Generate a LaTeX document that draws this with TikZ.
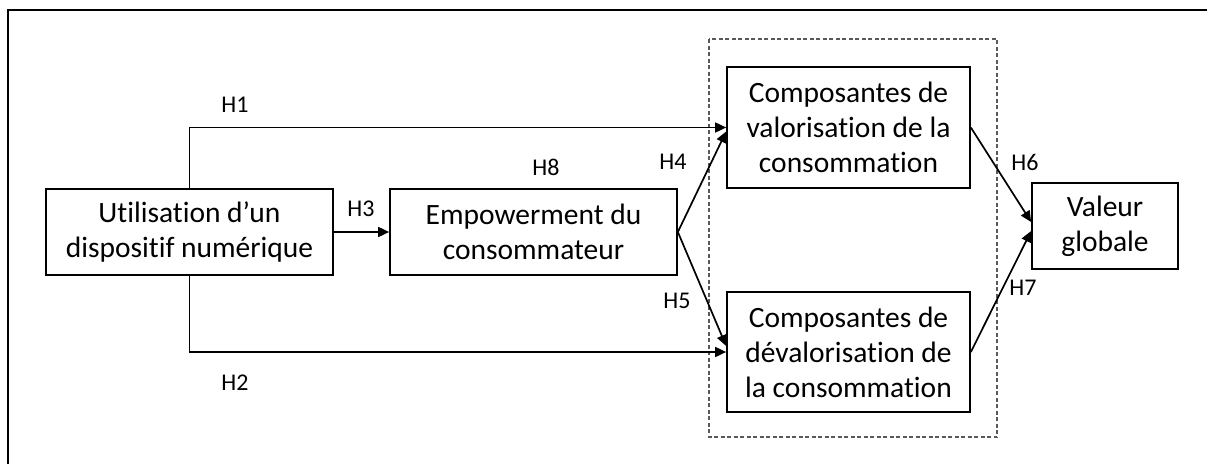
\documentclass[tikz,border=0pt]{standalone}
\usepackage{fontspec}
\setmainfont[Ligatures={NoCommon}]{Carlito}
\usetikzlibrary{arrows.meta}
\begin{document}
\begin{tikzpicture}[x=1pt,y=-1pt,
  box/.style={draw,line width=1.7pt,align=center,inner sep=0pt,
    font=\fontsize{29.5}{35}\selectfont},
  hlab/.style={font=\fontsize{24}{26}\selectfont,inner sep=0pt},
  arr/.style={line width=1.7pt,-{Triangle[length=11pt,width=10pt]}},
  grp/.style={draw=gray!70!black,line width=1.1pt,dash pattern=on 4pt off 2.5pt}]
\useasboundingbox (0,0) rectangle (1207,463);
\draw[line width=2.6pt] (8,470) -- (8,10) -- (1215,10);
\draw[grp] (709,39) rectangle (997,437);
\node[box,minimum width=287pt,minimum height=86pt] (A) at (189.5,232) {Utilisation d’un\\dispositif numérique};
\node[box,minimum width=287pt,minimum height=86pt] (B) at (533.5,232) {Empowerment du\\consommateur};
\node[box,minimum width=243pt,minimum height=121pt] (C) at (848.5,127.5) {Composantes de\\valorisation de la\\consommation};
\node[box,minimum width=243pt,minimum height=120pt] (D) at (848.5,352) {Composantes de\\dévalorisation de\\la consommation};
\node[box,minimum width=146pt,minimum height=86pt] (E) at (1105,226) {Valeur\\globale};
\draw[arr] (A.north) |- (C.west);
\draw[arr] (A.south) |- (D.west);
\draw[arr] (A.east) -- (B.west);
\draw[arr] (B.east) -- ([yshift=-4pt]C.west);
\draw[arr] (B.east) -- ([yshift=6pt]D.west);
\draw[arr] (C.east) -- ([yshift=4pt]E.west);
\draw[arr] (D.east) -- ([yshift=-5pt]E.west);
\node[hlab] (h1) at (235,105) {H1};
\node[hlab] (h2) at (235,383) {H2};
\node[hlab] (h3) at (361,209) {H3};
\node[hlab] (h8) at (546,167) {H8};
\node[hlab] (h4) at (673,162) {H4};
\node[hlab] (h5) at (677,301) {H5};
\node[hlab] (h6) at (1025,162) {H6};
\node[hlab] (h7) at (1023,288) {H7};
\end{tikzpicture}
\end{document}
